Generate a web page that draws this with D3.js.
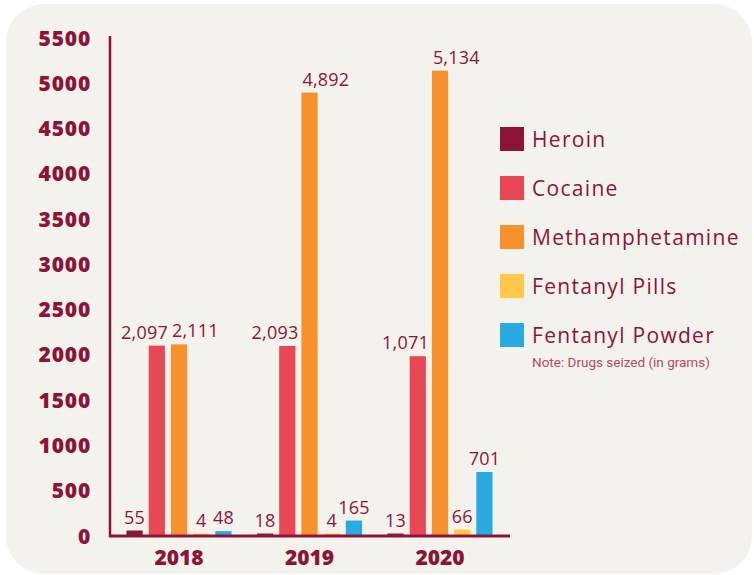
<!DOCTYPE html>
<html><head><meta charset="utf-8">
<script src="https://cdn.jsdelivr.net/npm/d3@7"></script>
<style>body{margin:0;background:#fff;}svg{display:block;}</style>
</head><body><svg id="c" width="754" height="575"></svg>
<script>
const years = ["2018", "2019", "2020"];
const series = ["Heroin", "Cocaine", "Methamphetamine", "Fentanyl Pills", "Fentanyl Powder"];
const colors = ["#8b1538", "#e84855", "#f7912e", "#ffc84a", "#29abe2"];
const heroin = [55, 18, 13];
const cocaine = [2097, 2093, 1980];
const meth = [2111, 4892, 5134];
const pills = [4, 4, 66];
const powder = [48, 165, 701];
const heroinLabels = ["55", "18", "13"];
const cocaineLabels = ["2,097", "2,093", "1,071"];
const methLabels = ["2,111", "4,892", "5,134"];
const pillsLabels = ["4", "4", "66"];
const powderLabels = ["48", "165", "701"];
const yTicks = [0, 500, 1000, 1500, 2000, 2500, 3000, 3500, 4000, 4500, 5000, 5500];
const note = "Note: Drugs seized (in grams)";

const values = [heroin, cocaine, meth, pills, powder];
const labels = [heroinLabels, cocaineLabels, methLabels, pillsLabels, powderLabels];
const anchors = ["middle", "end", "start", "middle", "middle"];
const maroon = "#8b1538";
const svg = d3.select("#c");

svg.append("rect").attr("x", 6).attr("y", 4).attr("width", 746).attr("height", 570)
  .attr("rx", 38).attr("fill", "#f4f2ed");

const y = d3.scaleLinear().domain([0, 5500]).range([535.5, 37.5]);
const x0 = d3.scaleBand().domain(years).range([109, 510]).paddingInner(0.195).paddingOuter(0.134);
const x1 = d3.scaleBand().domain(series).range([0, x0.bandwidth()]).paddingInner(0.27).paddingOuter(0);

// bars
const g = svg.append("g");
const lab = svg.append("g");
years.forEach((yr, i) => {
  series.forEach((s, j) => {
    const v = values[j][i];
    const bx = x0(yr) + x1(s);
    const bw = x1.bandwidth();
    const top = Math.min(y(v), y(0) - 2);
    g.append("rect").attr("x", bx).attr("y", top).attr("width", bw)
      .attr("height", y(0) - top).attr("fill", colors[j]);
    const a = anchors[j];
    const tx = a === "end" ? bx + bw + 3 : a === "start" ? bx + 1 : bx + bw / 2;
    lab.append("text").attr("x", tx).attr("y", top - 7)
      .attr("text-anchor", a).attr("fill", maroon)
      .attr("font-family", "'Open Sans', sans-serif").attr("font-size", 18)
      .attr("font-weight", 400).attr("letter-spacing", 0.2)
      .text(labels[j][i]);
  });
});
lab.raise();

// y axis
const yAxis = d3.axisLeft(y).tickValues(yTicks).tickSize(0).tickPadding(19).tickFormat(d => String(d));
const ya = svg.append("g").attr("transform", "translate(110,0)").call(yAxis);
ya.select(".domain").remove();
ya.selectAll("text").attr("fill", maroon).attr("font-family", "'Open Sans', sans-serif")
  .attr("font-size", 21).attr("font-weight", 800).attr("letter-spacing", 0.8).attr("dy", "0.36em");
svg.append("line").attr("x1", 110).attr("x2", 110).attr("y1", 36).attr("y2", 537)
  .attr("stroke", maroon).attr("stroke-width", 2.5);

// x axis
const xAxis = d3.axisBottom(x0).tickSize(0).tickPadding(14);
const xa = svg.append("g").attr("transform", "translate(0,536)").call(xAxis);
xa.select(".domain").remove();
xa.selectAll("text").attr("fill", maroon).attr("font-family", "'Open Sans', sans-serif")
  .attr("font-size", 21).attr("font-weight", 800).attr("dy", "0.72em");
svg.append("line").attr("x1", 109).attr("x2", 510).attr("y1", 536).attr("y2", 536)
  .attr("stroke", maroon).attr("stroke-width", 3);

// legend
const lg = svg.append("g");
series.forEach((s, j) => {
  const ly = 127 + j * 49;
  lg.append("rect").attr("x", 500).attr("y", ly).attr("width", 24).attr("height", 24).attr("fill", colors[j]);
  lg.append("text").attr("x", 532).attr("y", ly + 20).attr("fill", maroon)
    .attr("font-family", "'Open Sans', sans-serif").attr("font-size", 21).attr("font-weight", 400)
    .attr("letter-spacing", 1.3).text(s);
});
lg.append("text").attr("x", 532).attr("y", 367).attr("fill", "#b24a68")
  .attr("font-family", "'Roboto', sans-serif").attr("font-size", 13.5).text(note);
</script></body></html>
